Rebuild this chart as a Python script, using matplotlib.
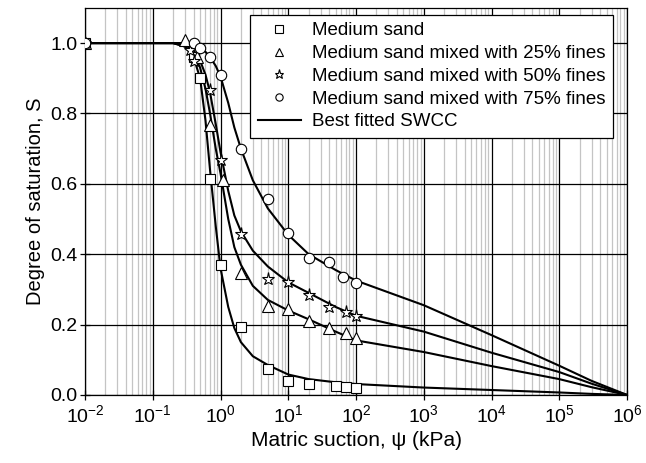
import matplotlib
matplotlib.use("Agg")
import matplotlib.pyplot as plt
from matplotlib.ticker import LogLocator, NullFormatter, FixedLocator

plt.rcParams.update({
    "font.family": ["Liberation Sans", "DejaVu Sans"],
    "mathtext.fontset": "custom",
    "mathtext.rm": "Liberation Sans",
    "mathtext.it": "Liberation Sans",
    "mathtext.default": "regular",
})

# measured points (suction kPa, degree of saturation)
sand_x = [0.01, 0.4, 0.5, 0.7, 1.0, 2.0, 5.0, 10, 20, 50, 70, 100]
sand_s = [1.0, 0.96, 0.90, 0.614, 0.369, 0.193, 0.074, 0.04, 0.031, 0.026, 0.023, 0.02]

f25_x = [0.01, 0.3, 0.45, 0.7, 1.1, 2.0, 5.0, 10, 20, 40, 70, 100]
f25_s = [1.0, 1.01, 0.96, 0.767, 0.61, 0.347, 0.253, 0.245, 0.21, 0.19, 0.176, 0.162]

f50_x = [0.01, 0.35, 0.4, 0.7, 1.0, 2.0, 5.0, 10, 20, 40, 70, 100]
f50_s = [1.0, 0.98, 0.95, 0.867, 0.668, 0.457, 0.33, 0.32, 0.284, 0.25, 0.236, 0.225]

f75_x = [0.01, 0.4, 0.5, 0.7, 1.0, 2.0, 5.0, 10, 20, 40, 65, 100]
f75_s = [1.0, 1.0, 0.987, 0.96, 0.91, 0.70, 0.556, 0.46, 0.39, 0.377, 0.335, 0.318]

# best fitted SWCC curves
fit_x = [0.01, 0.2, 0.3, 0.4, 0.5, 0.6, 0.7, 0.85, 1.0, 1.3, 1.6, 2.0, 3.0,
         5.0, 10, 20, 50, 100, 1e3, 1e4, 1e5, 3e5, 1e6]
fit_sand = [1.0, 1.0, 0.99, 0.96, 0.90, 0.78, 0.64, 0.48, 0.36, 0.25, 0.19, 0.15, 0.11,
            0.085, 0.058, 0.045, 0.036, 0.031, 0.021, 0.014, 0.007, 0.003, 0.0]
fit_25 = [1.0, 1.0, 0.99, 0.97, 0.93, 0.87, 0.80, 0.70, 0.63, 0.50, 0.42, 0.37, 0.31,
          0.27, 0.24, 0.215, 0.18, 0.155, 0.122, 0.082, 0.045, 0.022, 0.0]
fit_50 = [1.0, 1.0, 0.995, 0.98, 0.95, 0.91, 0.86, 0.77, 0.69, 0.58, 0.51, 0.465, 0.41,
          0.365, 0.32, 0.29, 0.25, 0.225, 0.18, 0.12, 0.065, 0.032, 0.0]
fit_75 = [1.0, 1.0, 1.0, 0.995, 0.985, 0.975, 0.96, 0.935, 0.905, 0.83, 0.76, 0.70, 0.61,
          0.53, 0.455, 0.40, 0.355, 0.325, 0.255, 0.17, 0.083, 0.04, 0.0]

xticks = [1e-2, 1e-1, 1e0, 1e1, 1e2, 1e3, 1e4, 1e5, 1e6]
xticklabels = ["$10^{-2}$", "$10^{-1}$", "$10^{0}$", "$10^{1}$", "$10^{2}$",
               "$10^{3}$", "$10^{4}$", "$10^{5}$", "$10^{6}$"]
yticks = [0.0, 0.2, 0.4, 0.6, 0.8, 1.0]

fig = plt.figure(figsize=(6.46, 4.63), dpi=100)
ax = fig.add_axes([0.1316, 0.147, 0.839, 0.836])

ax.set_xscale("log")
ax.set_xlim(1e-2, 1e6)
ax.set_ylim(0, 1.1)

ax.xaxis.set_major_locator(FixedLocator(xticks))
ax.set_xticklabels(xticklabels)
ax.xaxis.set_minor_locator(LogLocator(base=10, subs=range(2, 10), numticks=100))
ax.xaxis.set_minor_formatter(NullFormatter())
ax.set_yticks(yticks)
ax.set_yticklabels([f"{v:.1f}" for v in yticks])

ax.grid(True, which="minor", axis="x", color="#c4c4c4", lw=0.9)
ax.grid(True, which="major", axis="both", color="black", lw=0.9)
ax.set_axisbelow(True)

ax.tick_params(which="major", direction="inout", length=7, width=0.9, labelsize=14)
ax.tick_params(which="minor", length=0)
ax.tick_params(axis="x", pad=3)
ax.tick_params(axis="y", pad=2)
for sp in ax.spines.values():
    sp.set_linewidth(0.9)

mk = dict(ls="none", mfc="white", mec="black", mew=0.8, zorder=4)
ax.plot(sand_x, sand_s, marker="s", ms=7.5, label="Medium sand", **mk)
ax.plot(f25_x, f25_s, marker="^", ms=8, label="Medium sand mixed with 25% fines", **mk)
ax.plot(f50_x, f50_s, marker="*", ms=9.5, label="Medium sand mixed with 50% fines", **mk)
ax.plot(f75_x, f75_s, marker="o", ms=7.5, label="Medium sand mixed with 75% fines", **mk)

for i, ys in enumerate([fit_sand, fit_25, fit_50, fit_75]):
    ax.plot(fit_x, ys, color="black", lw=1.5, zorder=3,
            label="Best fitted SWCC" if i == 0 else None)

ax.set_xlabel("Matric suction, ψ (kPa)", fontsize=15)
ax.set_ylabel("Degree of saturation, S", fontsize=14.5)

leg = ax.legend(loc="upper right", bbox_to_anchor=(0.974, 0.982), borderaxespad=0,
                fontsize=13.5, frameon=True, fancybox=False, edgecolor="black",
                framealpha=1, labelspacing=0.3, handlelength=2.3, handletextpad=0.6,
                borderpad=0.4, markerscale=0.7)
leg.get_frame().set_linewidth(0.9)

fig.savefig("out.png", dpi=100)
